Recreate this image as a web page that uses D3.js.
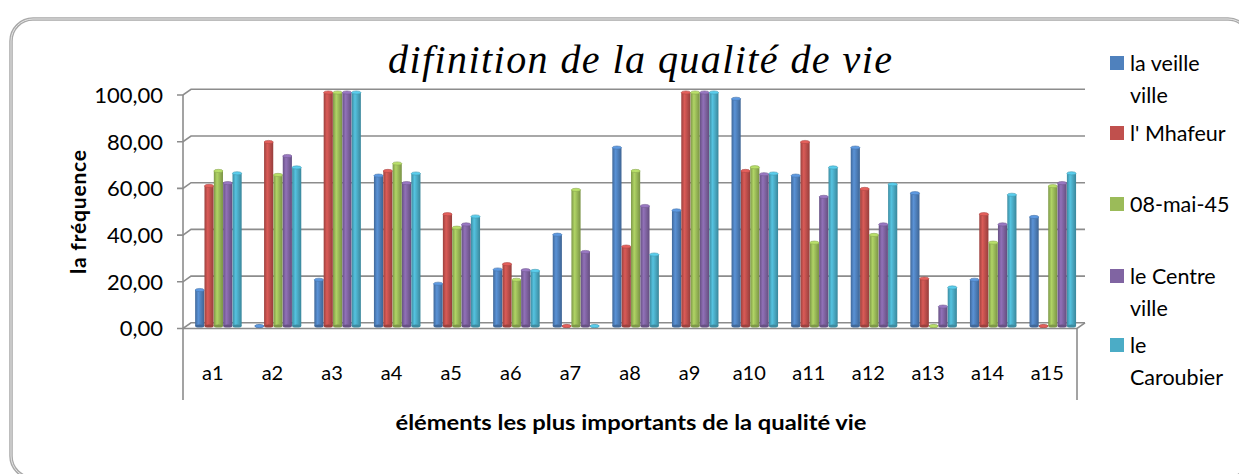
<!DOCTYPE html>
<html>
<head>
<meta charset="utf-8">
<script src="https://cdn.jsdelivr.net/npm/d3@7"></script>
<style>
  body { margin: 0; background: #fff; }
  svg { display: block; }
  text { font-family: Lato, "Noto Sans", sans-serif; fill: #000; }
</style>
</head>
<body>
<svg></svg>
<script>
const width = 1239;
const height = 474;

const categories = ['a1','a2','a3','a4','a5','a6','a7','a8','a9','a10','a11','a12','a13','a14','a15'];
const seriesNames = ['la veille ville', "l' Mhafeur", '08-mai-45', 'le Centre ville', 'le Caroubier'];
const legendLines = [['la veille', 'ville'], ["l' Mhafeur"], ['08-mai-45'], ['le Centre', 'ville'], ['le', 'Caroubier']];
const colors = ['#4F81BD', '#C0504D', '#9BBB59', '#8064A2', '#4BACC6'];

const laVeilleVille = [15.4, 0, 19.8, 64.4, 18.1, 24.2, 39.1, 76.4, 49.5, 97.3, 64.4, 76.4, 56.9, 19.8, 46.7];
const mhafeur      = [60.0, 78.8, 100, 66.4, 47.9, 26.5, 0, 34.0, 100, 66.4, 78.8, 58.7, 20.3, 47.9, 0];
const mai45        = [66.4, 64.7, 100, 69.6, 42.1, 19.8, 58.3, 66.4, 100, 68.0, 35.7, 39.0, 0, 35.7, 59.9];
const centreVille  = [61.2, 72.8, 100, 61.2, 43.5, 23.9, 31.7, 51.4, 100, 65.0, 55.3, 43.5, 8.3, 43.5, 61.2];
const caroubier    = [65.4, 67.9, 100, 65.3, 46.9, 23.6, 0, 30.6, 100, 65.3, 67.9, 60.7, 16.5, 56.2, 65.4];
const seriesValues = [laVeilleVille, mhafeur, mai45, centreVille, caroubier];

const yTicks = [0, 20, 40, 60, 80, 100];

const svg = d3.select('svg').attr('width', width).attr('height', height);
const defs = svg.append('defs');

// outer rounded frame
svg.append('rect')
    .attr('x', 11).attr('y', 19).attr('width', 1239).attr('height', 459)
    .attr('rx', 22).attr('ry', 22)
    .style('fill', 'none').style('stroke', '#a8a8a8').style('stroke-width', 3.5);
svg.append('rect')
    .attr('x', 11).attr('y', 19).attr('width', 1239).attr('height', 459)
    .attr('rx', 22).attr('ry', 22)
    .style('fill', 'none').style('stroke', '#e8e8e8').style('stroke-width', 1);

const left = 183, right = 1077;
const depthX = 8, depthY = -5.7;

const x0 = d3.scaleBand().domain(categories).range([left, right]);
const x1 = d3.scaleBand().domain(d3.range(seriesNames.length))
    .range([0, x0.bandwidth()]).paddingInner(0.02).paddingOuter(0.7);
const y = d3.scaleLinear().domain([0, 100]).range([328.5, 95]);

// walls and gridlines
const grid = svg.append('g').style('stroke', '#8c8c8c').style('stroke-width', 1.6).style('fill', 'none');
yTicks.forEach(t => {
    const yy = y(t);
    grid.append('path').attr('d', `M${left - 6},${yy}H${left}L${left + depthX},${yy + depthY}H${right + depthX}`);
});
// front floor edge and end diagonal
grid.append('path').attr('d', `M${left},${y(0)}H${right}L${right + depthX},${y(0) + depthY}`);
// vertical axis and category band edges
grid.append('path').attr('d', `M${left},${y(100)}V400`);
grid.append('path').attr('d', `M${right},${y(0)}V400`);

// y tick labels
svg.append('g').selectAll('text').data(yTicks).enter().append('text')
    .attr('x', 163).attr('y', d => y(d))
    .attr('dy', '0.36em').attr('text-anchor', 'end')
    .style('font-size', '22px')
    .text(d => d3.format('.2f')(d).replace('.', ','));

// gradients for cylinders
colors.forEach((c, i) => {
    const g = defs.append('linearGradient').attr('id', 'cyl' + i)
        .attr('x1', 0).attr('x2', 1).attr('y1', 0).attr('y2', 0);
    const base = d3.color(c);
    g.append('stop').attr('offset', '0%').attr('stop-color', base.darker(0.6));
    g.append('stop').attr('offset', '35%').attr('stop-color', base.brighter(0.35));
    g.append('stop').attr('offset', '60%').attr('stop-color', base);
    g.append('stop').attr('offset', '100%').attr('stop-color', base.darker(0.7));
});

// bars
const barOffsetX = 5.6, barOffsetY = -2.5;
const bw = x1.bandwidth();
const groups = svg.append('g').selectAll('g').data(categories).enter().append('g')
    .attr('transform', d => `translate(${x0(d) + barOffsetX},${barOffsetY})`);

groups.each(function (cat, ci) {
    const g = d3.select(this);
    seriesValues.forEach((vals, si) => {
        const v = vals[ci];
        const bx = x1(si);
        const top = y(v), bottom = y(0);
        g.append('rect')
            .attr('x', bx).attr('y', top).attr('width', bw).attr('height', bottom - top)
            .style('fill', `url(#cyl${si})`);
        g.append('ellipse')
            .attr('cx', bx + bw / 2).attr('cy', bottom).attr('rx', bw / 2).attr('ry', 1.6)
            .style('fill', d3.color(colors[si]).darker(0.6));
        g.append('ellipse')
            .attr('cx', bx + bw / 2).attr('cy', top).attr('rx', bw / 2).attr('ry', 1.6)
            .style('fill', d3.color(colors[si]).brighter(0.5))
            .style('stroke', d3.color(colors[si]).darker(0.3)).style('stroke-width', 0.6);
    });
});

// x labels
svg.append('g').selectAll('text').data(categories).enter().append('text')
    .attr('x', d => x0(d) + x0.bandwidth() / 2).attr('y', 373)
    .attr('dy', '0.36em').attr('text-anchor', 'middle')
    .style('font-size', '20px')
    .text(d => d);

// title
svg.append('text')
    .attr('x', 640).attr('y', 73).attr('text-anchor', 'middle')
    .attr('textLength', 504).attr('lengthAdjust', 'spacing')
    .style('font-family', '"Liberation Serif", "DejaVu Serif", serif')
    .style('font-style', 'italic').style('font-size', '40px')
    .text('difinition de la qualité de vie');

// axis titles
svg.append('text')
    .attr('x', 631).attr('y', 423).attr('dy', '0.36em').attr('text-anchor', 'middle')
    .attr('textLength', 471).attr('lengthAdjust', 'spacingAndGlyphs')
    .style('font-size', '20px').style('font-weight', 'bold')
    .text('éléments les plus importants de la qualité vie');

svg.append('text')
    .attr('transform', 'translate(78,212) rotate(-90)')
    .attr('dy', '0.36em').attr('text-anchor', 'middle')
    .attr('textLength', 124).attr('lengthAdjust', 'spacing')
    .style('font-size', '21px').style('font-weight', 'bold')
    .text('la fréquence');

// legend
const legendY = [63, 133, 204, 276, 345];
const legend = svg.append('g').selectAll('g').data(seriesNames).enter().append('g')
    .attr('transform', (d, i) => `translate(1110,${legendY[i]})`);
legend.append('rect')
    .attr('x', 0).attr('y', -7).attr('width', 14).attr('height', 14)
    .style('fill', (d, i) => colors[i]);
legend.append('text')
    .attr('x', 20).attr('y', 0)
    .style('font-size', '21.5px')
    .selectAll('tspan').data((d, i) => legendLines[i]).enter().append('tspan')
    .attr('x', 20).attr('dy', (d, j) => j === 0 ? '0.36em' : '1.5em')
    .text(d => d);
</script>
</body>
</html>
